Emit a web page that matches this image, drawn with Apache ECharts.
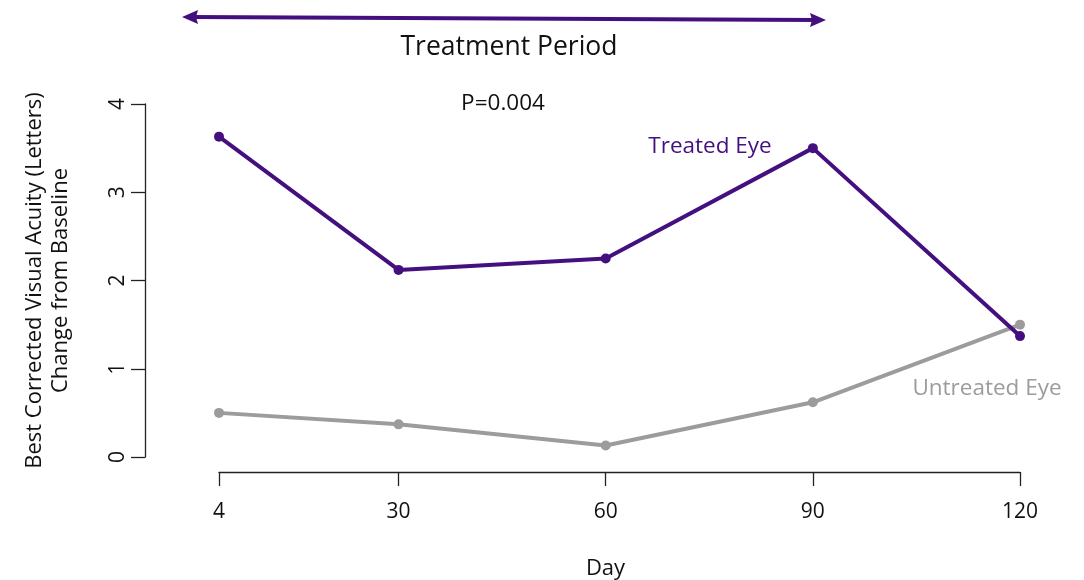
<!DOCTYPE html>
<html><head><meta charset="utf-8">
<script src="https://cdn.jsdelivr.net/npm/echarts@6/dist/echarts.min.js"></script>
<style>html,body{margin:0;padding:0;background:#fff}#c{width:1084px;height:580px}</style>
</head><body><div id="c"></div>
<script>
const days = [4, 30, 60, 90, 120];
const treated = [3.63, 2.12, 2.25, 3.50, 1.37];
const untreated = [0.50, 0.37, 0.13, 0.62, 1.50];
const xTicks = [4, 30, 60, 90, 120];
const yTicks = [0, 1, 2, 3, 4];
const PURPLE = '#44107f';
const GRAY = '#9c9c9c';
const FONT = 'Open Sans';

const chart = echarts.init(document.getElementById('c'));
chart.setOption({
  animation: false,
  backgroundColor: '#fff',
  textStyle: { fontFamily: FONT },
  grid: { left: 219, right: 64, top: 104, bottom: 123, containLabel: false, outerBoundsMode: 'none' },
  xAxis: {
    type: 'value', min: 4, max: 120, offset: 15,
    name: 'Day', nameLocation: 'middle', nameGap: 86,
    nameTextStyle: { fontFamily: FONT, fontSize: 22, color: '#111', padding: [0, 28, 0, 0] },
    axisLine: { show: true, onZero: false, lineStyle: { color: '#222', width: 1.3 } },
    axisTick: { show: true, length: 14, customValues: xTicks, lineStyle: { color: '#222', width: 1.3 } },
    axisLabel: { customValues: xTicks, fontFamily: FONT, fontSize: 21, color: '#111', margin: 30 },
    splitLine: { show: false }
  },
  yAxis: {
    type: 'value', min: 0, max: 4, interval: 1, offset: 74,
    name: 'Best Corrected Visual Acuity (Letters)\nChange from Baseline',
    nameLocation: 'middle', nameRotate: 90, nameGap: 71,
    nameTextStyle: { fontFamily: FONT, fontSize: 22, color: '#111', lineHeight: 26 },
    axisLine: { show: true, onZero: false, lineStyle: { color: '#222', width: 1.3 } },
    axisTick: { show: true, length: 14, lineStyle: { color: '#222', width: 1.3 } },
    axisLabel: { rotate: 90, fontFamily: FONT, fontSize: 21, color: '#111', margin: 16, formatter: v => yTicks.includes(v) ? String(v) : '' },
    splitLine: { show: false }
  },
  series: [
    {
      name: 'Untreated Eye', type: 'line',
      data: days.map((d, i) => [d, untreated[i]]),
      symbol: 'circle', symbolSize: 10,
      lineStyle: { color: GRAY, width: 4 }, itemStyle: { color: GRAY }
    },
    {
      name: 'Treated Eye', type: 'line',
      data: days.map((d, i) => [d, treated[i]]),
      symbol: 'circle', symbolSize: 10,
      lineStyle: { color: PURPLE, width: 4 }, itemStyle: { color: PURPLE }
    }
  ],
  graphic: [
    { type: 'line', shape: { x1: 192, y1: 17, x2: 816, y2: 20 }, style: { stroke: PURPLE, lineWidth: 4 } },
    { type: 'polygon', shape: { points: [[182, 17], [198, 10], [196, 17], [198, 24]] }, style: { fill: PURPLE } },
    { type: 'polygon', shape: { points: [[826, 20], [810, 13], [812, 20], [810, 27]] }, style: { fill: PURPLE } },
    { type: 'text', x: 509, y: 47, style: { text: 'Treatment Period', font: '26.5px "Open Sans"', fill: '#111', textAlign: 'center', textVerticalAlign: 'middle' } },
    { type: 'text', x: 503, y: 104, style: { text: 'P=0.004', font: '22.5px "Open Sans"', fill: '#111', textAlign: 'center', textVerticalAlign: 'middle' } },
    { type: 'text', x: 710, y: 147, style: { text: 'Treated Eye', font: '22.5px "Open Sans"', fill: PURPLE, textAlign: 'center', textVerticalAlign: 'middle' } },
    { type: 'text', x: 987, y: 389, style: { text: 'Untreated Eye', font: '22.5px "Open Sans"', fill: GRAY, textAlign: 'center', textVerticalAlign: 'middle' } }
  ]
});
</script></body></html>
